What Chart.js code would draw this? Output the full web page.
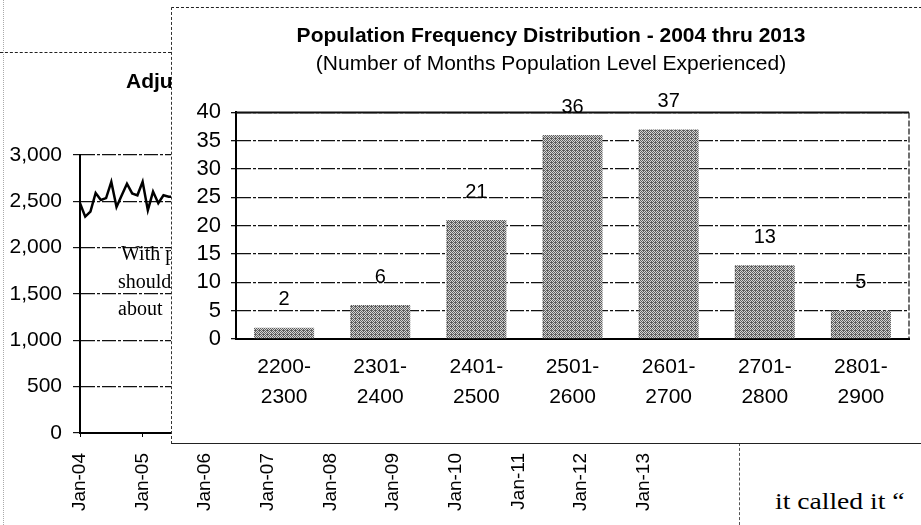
<!DOCTYPE html>
<html>
<head>
<meta charset="utf-8">
<script src="https://cdn.jsdelivr.net/npm/chart.js@4.4.1/dist/chart.umd.min.js"></script>
<style>
  html, body { margin: 0; padding: 0; background: #fff; }
  body { width: 921px; height: 525px; overflow: hidden; position: relative; font-family: "Liberation Sans", Arial, sans-serif; }
  #bg { position: absolute; left: 0; top: 0; }
  .note { position: absolute; font-family: "Liberation Serif", "Times New Roman", serif; color: #000; white-space: nowrap; z-index: 1; }
  #bgTitle { position: absolute; left: 126px; top: 70px; font-size: 21px; line-height: 21px; font-weight: bold; white-space: nowrap; z-index: 1; }
  #inset { position: absolute; left: 171px; top: 7px; width: 780px; height: 435px; background: #fff;
           border-top: 1px dashed #222; border-left: 1px dashed #333; border-bottom: 1px solid #222; z-index: 2; }
  #c2 { position: absolute; left: 0; top: 0; }
  #topRule { position: absolute; left: 0; top: 52px; width: 171px; border-top: 1px dashed #222; }
  #leftRule { position: absolute; left: 3px; top: 0; height: 525px; border-left: 1px dotted #aaa; }
  #boxRule { position: absolute; left: 739px; top: 443px; height: 82px; border-left: 1px dashed #555; }
  #callText { left: 775px; top: 490px; font-size: 23px; line-height: 23px; transform: scaleX(1.2); transform-origin: left top; }
</style>
</head>
<body>
<div id="leftRule"></div>
<div id="topRule"></div>
<canvas id="bg" width="740" height="525"></canvas>
<div id="bgTitle">Adjusted Population</div>
<div class="note" style="left:121px;top:243px;font-size:20px;line-height:20px;">With p</div>
<div class="note" style="left:118px;top:271px;font-size:20px;line-height:20px;">should</div>
<div class="note" style="left:118px;top:298px;font-size:20px;line-height:20px;">about</div>
<div id="inset"><canvas id="c2" width="750" height="435"></canvas></div>
<div id="boxRule"></div>
<div class="note" id="callText">it called it “</div>

<script>
// fondo: grafico de poblacion mensual (solo se ve el comienzo)
const yearLabels = ["Jan-04", "Jan-05", "Jan-06", "Jan-07", "Jan-08", "Jan-09", "Jan-10", "Jan-11", "Jan-12", "Jan-13"];
const popMonthly = [2480, 2335, 2390, 2590, 2515, 2535, 2710, 2440, 2565, 2690, 2585, 2565, 2710, 2405, 2605, 2480, 2565, 2550, 2550];

// grafico principal: distribucion de frecuencias
const ranges = [["2200-", "2300"], ["2301-", "2400"], ["2401-", "2500"], ["2501-", "2600"], ["2601-", "2700"], ["2701-", "2800"], ["2801-", "2900"]];
const monthCounts = [2, 6, 21, 36, 37, 13, 5];

const FONT = '"Liberation Sans", Arial, sans-serif';
Chart.defaults.font.family = FONT;
Chart.defaults.color = '#000';
Chart.defaults.animation = false;

new Chart(document.getElementById('bg'), {
  type: 'line',
  data: {
    datasets: [{
      data: popMonthly.map((v, i) => ({ x: i, y: v })),
      borderColor: '#000',
      borderWidth: 2.5,
      pointRadius: 0,
      tension: 0
    }]
  },
  options: {
    responsive: false,
    layout: { padding: { top: 155, right: 39, left: 0, bottom: 0 } },
    plugins: { legend: { display: false }, tooltip: { enabled: false } },
    scales: {
      x: {
        type: 'linear',
        min: 0,
        max: 119,
        afterFit: s => { s.height = 92; },
        grid: { drawOnChartArea: false, tickLength: 4, color: '#000' },
        border: { color: '#000', width: 2 },
        ticks: {
          stepSize: 12,
          includeBounds: false,
          autoSkip: false,
          minRotation: 90,
          maxRotation: 90,
          padding: 16,
          font: { size: 19 },
          callback: v => yearLabels[v / 12] ?? ''
        }
      },
      y: {
        min: 0,
        max: 3000,
        afterFit: s => { s.width = 80; },
        grid: { color: '#111', lineWidth: 1.2, tickLength: 7 },
        border: { color: '#000', width: 2, dash: [14, 2, 3, 2] },
        ticks: { stepSize: 500, padding: 11, autoSkip: false, font: { size: 21 } }
      }
    }
  }
});

// relleno punteado tipo fotocopia para las barras
const ctx2 = document.getElementById('c2').getContext('2d');
function stipple() {
  const c = document.createElement('canvas');
  c.width = 4; c.height = 4;
  const g = c.getContext('2d');
  g.fillStyle = '#d4d4d4';
  g.fillRect(0, 0, 4, 4);
  g.fillStyle = '#5e5e5e';
  [[0, 0], [2, 0], [1, 1], [3, 1], [0, 2], [2, 2], [1, 3], [3, 3], [3, 2]].forEach(([x, y]) => g.fillRect(x, y, 1, 1));
  return ctx2.createPattern(c, 'repeat');
}

const frameAndLabels = {
  id: 'frameAndLabels',
  afterDraw(chart) {
    const { ctx, chartArea: a } = chart;
    ctx.save();
    ctx.strokeStyle = '#111';
    ctx.lineWidth = 2;
    ctx.beginPath();
    ctx.moveTo(a.left, a.top);
    ctx.lineTo(a.right, a.top);
    ctx.stroke();
    ctx.lineWidth = 1.2;
    ctx.setLineDash([6, 2]);
    ctx.beginPath();
    ctx.moveTo(a.right, a.top);
    ctx.lineTo(a.right, a.bottom);
    ctx.stroke();
    ctx.setLineDash([]);
    ctx.fillStyle = '#000';
    ctx.font = '20px ' + FONT;
    ctx.textAlign = 'center';
    ctx.textBaseline = 'middle';
    chart.getDatasetMeta(0).data.forEach((bar, i) => {
      ctx.fillText(String(monthCounts[i]), bar.x, bar.y - 28);
    });
    ctx.restore();
  }
};

new Chart(ctx2, {
  type: 'bar',
  data: {
    labels: ranges,
    datasets: [{
      data: monthCounts,
      backgroundColor: stipple(),
      borderWidth: 0,
      categoryPercentage: 1,
      barPercentage: 0.625
    }]
  },
  options: {
    responsive: false,
    layout: { padding: { left: 21, right: 13, top: 0, bottom: 0 } },
    plugins: {
      legend: { display: false },
      tooltip: { enabled: false },
      title: {
        display: true,
        text: 'Population Frequency Distribution - 2004 thru 2013',
        color: '#000',
        font: { size: 21, weight: 'bold', lineHeight: 1.2 },
        padding: { top: 16, bottom: 0 }
      },
      subtitle: {
        display: true,
        text: '(Number of Months Population Level Experienced)',
        color: '#000',
        font: { size: 21, lineHeight: 1.2 },
        padding: { top: 2, bottom: 36 }
      }
    },
    scales: {
      x: {
        afterFit: s => { s.height = 104; },
        grid: { display: false, drawTicks: false },
        border: { color: '#000', width: 2 },
        ticks: { padding: 13, font: { size: 21, lineHeight: 1.45 }, maxRotation: 0, autoSkip: false }
      },
      y: {
        min: 0,
        max: 40,
        afterFit: s => { s.width = 43; },
        grid: { color: '#111', lineWidth: 1.3, tickLength: 5 },
        border: { color: '#000', width: 2, dash: [14, 2, 3, 2] },
        ticks: { stepSize: 5, padding: 10, autoSkip: false, font: { size: 22 } }
      }
    }
  },
  plugins: [frameAndLabels]
});
</script>
</body>
</html>
